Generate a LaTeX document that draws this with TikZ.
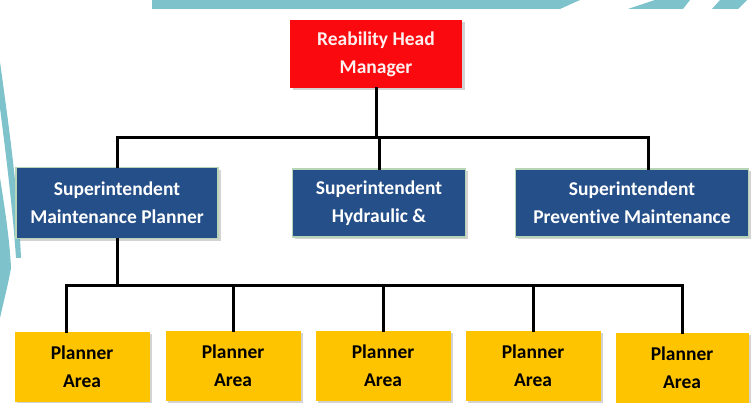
\documentclass[tikz,border=0pt]{standalone}
\usepackage{fontspec}
\setmainfont{Carlito}[Ligatures=NoCommon]
\usetikzlibrary{shadows}

\definecolor{headred}{RGB}{250,10,14}
\definecolor{supblue}{RGB}{37,79,137}
\definecolor{areagold}{RGB}{255,196,0}
\definecolor{decocyan}{RGB}{126,195,203}

\def\bh{70}

\begin{document}
\begin{tikzpicture}[x=1pt, y=-1pt,
  box/.style={inner sep=0pt, align=center, minimum height=\bh,
    font=\bfseries\fontsize{19.5}{28}\selectfont,
    drop shadow={opacity=0.35, shadow xshift=2.5pt, shadow yshift=-2.5pt}},
  head/.style={box, fill=headred, text=red!6, minimum height=68},
  sup/.style={box, fill=supblue, draw=green!25!gray!45, line width=1.2pt, text=white},
  area/.style={box, fill=areagold, text=black, minimum width=135},
  conn/.style={line width=3pt, line cap=rect},
  deco/.style={fill=decocyan}]
\useasboundingbox (0,0) rectangle (753,403);
% background
\fill[deco] (152,0) -- (580,0) -- (560,9) -- (152,9) -- cycle;
\fill[deco] (655,0) -- (690,0) -- (683,9) -- (628,9) -- cycle;
\fill[deco] (720,0) -- (747,0) -- (738,9) -- (712,9) -- cycle;
\fill[deco] (0,62) .. controls (8,120) and (18,190) .. (21,258)
  -- (16,258) .. controls (12,200) and (4,140) .. (0,108) -- cycle;
\fill[deco] (0,178) .. controls (6,215) and (10,245) .. (11,268)
  .. controls (8,285) and (4,300) .. (0,318) -- cycle;

% boxes
\node[head, minimum width=172] (head) at (376,54) {Reability Head\\Manager};
\node[sup, minimum width=202, minimum height=71] (sup1) at (117,203) {Superintendent\\Maintenance Planner};
\node[sup, minimum width=173, minimum height=68] (sup2) at (379,203) {Superintendent\\Hydraulic \&};
\node[sup, minimum width=233, minimum height=68] (sup3) at (632,203) {Superintendent\\Preventive Maintenance};
\node[area] (p1) at (82,367) {Planner\\Area};
\node[area] (p2) at (233,366) {Planner\\Area};
\node[area] (p3) at (383,366) {Planner\\Area};
\node[area] (p4) at (533,366) {Planner\\Area};
\node[area, minimum width=133] (p5) at (682,368) {Planner\\Area};

% connectors
\coordinate (bus1) at (376,138);
\coordinate (s3top) at (648,169);
\coordinate (bus2) at (117,286);
\coordinate (p1top) at (66,332);
\draw[conn] (head) -- (bus1);
\draw[conn] (sup1.north) |- (bus1) -| (s3top);
\draw[conn] (sup2.north) -- (sup2.north |- bus1);
\draw[conn] (sup1) -- (bus2);
\draw[conn] (p1top) |- (bus2) -| (p5.north);
\foreach \i in {2,3,4}
  \draw[conn] (p\i.north) -- (p\i.north |- bus2);
\end{tikzpicture}
\end{document}
